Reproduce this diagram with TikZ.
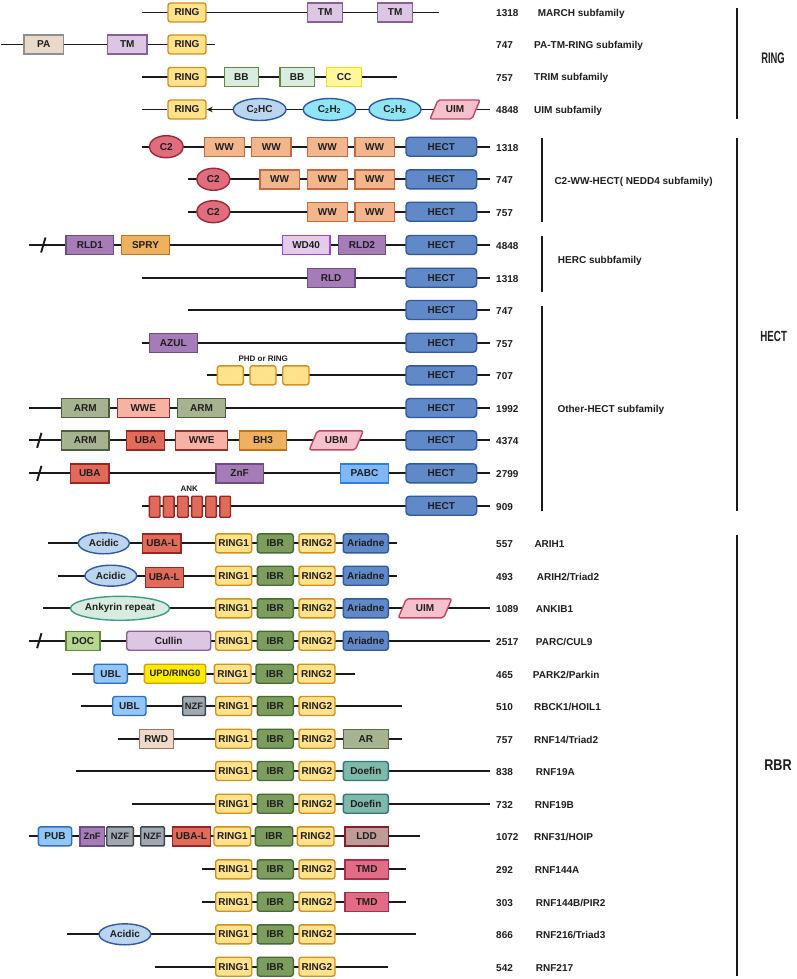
\documentclass[tikz,border=0pt]{standalone}
\usepackage{fontspec}
\setmainfont{Liberation Sans}
\usetikzlibrary{shapes.geometric,arrows.meta}
\definecolor{lineC}{HTML}{1A1A1A}
\definecolor{txtC}{HTML}{1E1E1E}
\definecolor{ringF}{HTML}{FFE28A}\definecolor{ringD}{HTML}{D4901C}
\definecolor{tmF}{HTML}{DCC6E3}\definecolor{tmD}{HTML}{8A5E98}
\definecolor{paF}{HTML}{EAD8C8}\definecolor{paD}{HTML}{8F8F8F}
\definecolor{bbF}{HTML}{D8EDDF}\definecolor{bbD}{HTML}{5E8A3A}
\definecolor{ccF}{HTML}{FFF6A0}\definecolor{ccD}{HTML}{F2E200}
\definecolor{chcF}{HTML}{BCD5EF}\definecolor{chcD}{HTML}{2D5AA5}
\definecolor{chhF}{HTML}{8FE5F4}\definecolor{chhD}{HTML}{2D5AA5}
\definecolor{uimF}{HTML}{F6C0CC}\definecolor{uimD}{HTML}{C2465F}
\definecolor{ctwoF}{HTML}{E06C7E}\definecolor{ctwoD}{HTML}{9A2A3A}
\definecolor{wwF}{HTML}{F3B58C}\definecolor{wwD}{HTML}{C56A3E}
\definecolor{hectF}{HTML}{6189C7}\definecolor{hectD}{HTML}{2F5A9E}
\definecolor{rldF}{HTML}{A57CB7}\definecolor{rldD}{HTML}{6E4C84}
\definecolor{spryF}{HTML}{EEB160}\definecolor{spryD}{HTML}{C27312}
\definecolor{wdF}{HTML}{E3CCEA}\definecolor{wdD}{HTML}{A43FE6}
\definecolor{armF}{HTML}{A6B390}\definecolor{armD}{HTML}{4E6040}
\definecolor{wweF}{HTML}{F6B2A3}\definecolor{wweD}{HTML}{9C3030}
\definecolor{ubaF}{HTML}{E06B5A}\definecolor{ubaD}{HTML}{9A2525}
\definecolor{pabcF}{HTML}{80B7F6}\definecolor{pabcD}{HTML}{2F7FE0}
\definecolor{ibrF}{HTML}{7D9D5F}\definecolor{ibrD}{HTML}{4A6B30}
\definecolor{ankF}{HTML}{D7ECDF}\definecolor{ankD}{HTML}{3E9B8B}
\definecolor{docF}{HTML}{B7D68F}\definecolor{docD}{HTML}{5E8A3A}
\definecolor{ublF}{HTML}{92C6F6}\definecolor{ublD}{HTML}{2F6FC0}
\definecolor{updF}{HTML}{FFEB00}\definecolor{updD}{HTML}{D4A017}
\definecolor{nzfF}{HTML}{A0A9B0}\definecolor{nzfD}{HTML}{3C4650}
\definecolor{rwdF}{HTML}{EED9C9}\definecolor{rwdD}{HTML}{A07262}
\definecolor{arF}{HTML}{A6B390}\definecolor{arD}{HTML}{5A6B45}
\definecolor{doeF}{HTML}{80B9A9}\definecolor{doeD}{HTML}{2E7A80}
\definecolor{lddF}{HTML}{BF9B98}\definecolor{lddD}{HTML}{8A1C2A}
\definecolor{tmdF}{HTML}{E26C86}\definecolor{tmdD}{HTML}{A33050}
\newcommand\lab{\fontsize{10}{12}\selectfont\bfseries}
\newcommand\slab{\fontsize{8}{10}\selectfont\bfseries}
\tikzset{
 backbone/.style={line width=1.9pt, draw=lineC},
 brkline/.style={line width=1.9pt, draw=lineC},
 barline/.style={line width=1.9pt, draw=lineC},
 dbase/.style={draw, line width=1.4pt, inner sep=0pt, minimum height=19pt, font=\lab, text=txtC},
 rnd/.style={dbase, rounded corners=2.5pt},
 ovl/.style={dbase, ellipse, minimum height=22pt},
 numtxt/.style={font=\lab, anchor=west, inner sep=0pt, text=txtC},
 sRING/.style={rnd, fill=ringF, draw=ringD},
 sTM/.style={dbase, fill=tmF, draw=tmD},
 sPA/.style={dbase, fill=paF, draw=paD},
 sBB/.style={dbase, fill=bbF, draw=bbD},
 sCC/.style={dbase, fill=ccF, draw=ccD},
 sCHC/.style={ovl, fill=chcF, draw=chcD},
 sCHH/.style={ovl, fill=chhF, draw=chhD},
 sUIM/.style={line width=1.4pt, fill=uimF, draw=uimD, rounded corners=2pt},
 sCtwo/.style={ovl, fill=ctwoF, draw=ctwoD},
 sWW/.style={dbase, fill=wwF, draw=wwD},
 sHECT/.style={dbase, fill=hectF, draw=hectD, rounded corners=3.5pt},
 sRLD/.style={dbase, fill=rldF, draw=rldD},
 sSPRY/.style={dbase, fill=spryF, draw=spryD},
 sWD/.style={dbase, fill=wdF, draw=wdD},
 sARM/.style={dbase, fill=armF, draw=armD},
 sWWE/.style={dbase, fill=wweF, draw=wweD},
 sUBA/.style={dbase, fill=ubaF, draw=ubaD},
 sUBM/.style={line width=1.4pt, fill=uimF, draw=uimD, rounded corners=2pt},
 sPABC/.style={dbase, fill=pabcF, draw=pabcD},
 sPHD/.style={rnd, fill=ringF, draw=ringD},
 sANK/.style={dbase, fill=ubaF, draw=ubaD, minimum height=21pt, rounded corners=1pt},
 sIBR/.style={rnd, fill=ibrF, draw=ibrD},
 sARI/.style={rnd, fill=hectF, draw=hectD},
 sACI/.style={ovl, fill=chcF, draw=chcD, minimum height=21pt},
 sANKY/.style={ovl, fill=ankF, draw=ankD, minimum height=24pt},
 sDOC/.style={dbase, fill=docF, draw=docD},
 sCUL/.style={rnd, fill=tmF, draw=tmD},
 sUBL/.style={rnd, fill=ublF, draw=ublD},
 sUPD/.style={rnd, fill=updF, draw=updD},
 sNZF/.style={dbase, fill=nzfF, draw=nzfD, rounded corners=1pt},
 sRWD/.style={dbase, fill=rwdF, draw=rwdD},
 sAR/.style={dbase, fill=arF, draw=arD},
 sDOE/.style={rnd, fill=doeF, draw=doeD},
 sLDD/.style={dbase, fill=lddF, draw=lddD},
 sTMD/.style={dbase, fill=tmdF, draw=tmdD},
 sZNF/.style={dbase, fill=rldF, draw=rldD},
}
% box: [opts]{style}{name}{x1}{x2}{y}{text}
\newcommand\dom[7][]{%
 \pgfmathsetmacro\dw{#5-#4}%
 \pgfmathsetmacro\dx{(#4+#5)/2}%
 \node[#2,minimum width=\dw pt,#1] (#3) at (\dx,#6) {#7};}
% parallelogram: {style}{name}{x1}{x2}{y}{text}
\newcommand\para[6]{%
 \draw[#1] (#3,#5+9.5) -- (#3+8,#5-9.5) -- (#4,#5-9.5) -- (#4-8,#5+9.5) -- cycle;
 \node[font=\lab,text=txtC,inner sep=0pt] (#2) at ({(#3+#4)/2},#5) {#6};}
% backbone: {name}{x1}{x2}{y}
\newcommand\bbone[4]{\coordinate (#1a) at (#2,#4);\coordinate (#1b) at (#3,#4);\draw[backbone] (#1a) -- (#1b);}
% break mark: {x}{y}
\newcommand\brk[2]{\draw[brkline] (#1-2.2,#2+7.5) -- (#1+2.2,#2-7.5);}
% number
\newcommand\num[3]{\node[numtxt] (#1) at (496,#3+1) {#2};}
\newcommand\stdrbr[2]{%
 \dom{sRING}{#1ra}{215.7}{251.7}{#2}{RING1}
 \dom{sIBR}{#1ib}{257.3}{293.3}{#2}{IBR}
 \dom{sRING}{#1rb}{299}{335}{#2}{RING2}}
\begin{document}
\begin{tikzpicture}[x=1pt,y=-1pt]
\fill[white] (0,0) rectangle (797,979);
\useasboundingbox (0,0) rectangle (797,979);

% ================= RING =================
\bbone{a1}{141.7}{439}{12.5}
\dom{sRING}{a1r}{168}{206}{12.5}{RING}
\dom{sTM}{a1t}{307.7}{342.7}{12.5}{TM}
\dom{sTM}{a1u}{377.7}{412.7}{12.5}{TM}
\num{a1n}{1318}{12.5}
\node[numtxt] (a1l) at (537.7,13.5) {MARCH subfamily};

\bbone{a2}{1}{215}{44.5}
\dom{sPA}{a2p}{24}{63.3}{44.5}{PA}
\dom{sTM}{a2t}{107.7}{147}{44.5}{TM}
\dom{sRING}{a2r}{168}{206}{44.5}{RING}
\num{a2n}{747}{44.5}
\node[numtxt] (a2l) at (534,45.5) {PA-TM-RING subfamily};

\bbone{a3}{141.7}{396.7}{77}
\dom{sRING}{a3r}{168}{206}{77}{RING}
\dom{sBB}{a3b}{224.3}{258.3}{77}{BB}
\dom{sBB}{a3c}{280}{314.3}{77}{BB}
\dom{sCC}{a3d}{326.7}{361.7}{77}{CC}
\num{a3n}{757}{77}
\node[numtxt] (a3l) at (534,78) {TRIM subfamily};

\bbone{a4}{236}{490}{109.5}
\dom{sRING}{a4r}{168}{206}{109.5}{RING}
\draw[backbone] (141.7,109.5) coordinate (a4s) -- (a4r.west);
\dom{sCHC}{a4c}{233.3}{286}{109.5}{C\textsubscript{2}HC}
\dom{sCHH}{a4d}{303.3}{355.7}{109.5}{C\textsubscript{2}H\textsubscript{2}}
\dom{sCHH}{a4e}{369}{421}{109.5}{C\textsubscript{2}H\textsubscript{2}}
\draw[backbone,-{Stealth[length=6pt,width=5.5pt]}] (a4c.west) -- (a4r.east);
\para{sUIM}{a4u}{430}{480}{109.5}{UIM}
\num{a4n}{4848}{109.5}
\node[numtxt] (a4l) at (534,110.5) {UIM subfamily};

\draw[barline] (736.7,8) coordinate (ringbt) -- (736.7,119) coordinate (ringbb);
\node[inner sep=0pt,text=txtC] (ringlab) at (773,58) {\resizebox{23.5pt}{10.7pt}{\bfseries RING}};

% ================= HECT =================
\bbone{h1}{141.7}{490}{146.7}
\dom{sCtwo}{h1c}{149.3}{183.3}{146.7}{C2}
\dom{sWW}{h1w}{204.3}{244.3}{146.7}{WW}
\dom{sWW}{h1x}{251.7}{291}{146.7}{WW}
\dom{sWW}{h1y}{307.3}{347.3}{146.7}{WW}
\dom{sWW}{h1z}{355}{394.3}{146.7}{WW}
\dom{sHECT}{h1h}{406}{476.7}{146.7}{HECT}
\num{h1n}{1318}{146.7}

\bbone{h2}{187.7}{490}{179.3}
\dom{sCtwo}{h2c}{196.7}{230}{179.3}{C2}
\dom{sWW}{h2w}{260}{299.3}{179.3}{WW}
\dom{sWW}{h2y}{307.3}{347.3}{179.3}{WW}
\dom{sWW}{h2z}{355}{394.3}{179.3}{WW}
\dom{sHECT}{h2h}{406}{476.7}{179.3}{HECT}
\num{h2n}{747}{179.3}

\bbone{h3}{187.7}{490}{211.7}
\dom{sCtwo}{h3c}{196.7}{230}{211.7}{C2}
\dom{sWW}{h3y}{307.3}{347.3}{211.7}{WW}
\dom{sWW}{h3z}{355}{394.3}{211.7}{WW}
\dom{sHECT}{h3h}{406}{476.7}{211.7}{HECT}
\num{h3n}{757}{211.7}

\bbone{h4}{29.3}{490}{245}
\brk{43.3}{245}
\dom{sRLD}{h4a}{66}{113.7}{245}{RLD1}
\dom{sSPRY}{h4b}{121.7}{169.3}{245}{SPRY}
\dom{sWD}{h4c}{282.3}{330}{245}{WD40}
\dom{sRLD}{h4d}{338.3}{385.7}{245}{RLD2}
\dom{sHECT}{h4h}{406}{476.7}{245}{HECT}
\num{h4n}{4848}{245}

\bbone{h5}{141.7}{490}{277.7}
\dom{sRLD}{h5a}{307.3}{355}{277.7}{RLD}
\dom{sHECT}{h5h}{406}{476.7}{277.7}{HECT}
\num{h5n}{1318}{277.7}

\bbone{h6}{187.7}{490}{310}
\dom{sHECT}{h6h}{406}{476.7}{310}{HECT}
\num{h6n}{747}{310}

\bbone{h7}{141.7}{490}{342.7}
\dom{sRLD}{h7a}{149.3}{197.3}{342.7}{AZUL}
\dom{sHECT}{h7h}{406}{476.7}{342.7}{HECT}
\num{h7n}{757}{342.7}

\bbone{h8}{206.7}{490}{375.3}
\dom{sPHD}{h8a}{217.3}{243.3}{375.3}{}
\dom{sPHD}{h8b}{250}{276}{375.3}{}
\dom{sPHD}{h8c}{282.7}{309}{375.3}{}
\node[font=\slab,text=txtC,inner sep=0pt] (h8l) at (263.3,358.3) {PHD or RING};
\dom{sHECT}{h8h}{406}{476.7}{375.3}{HECT}
\num{h8n}{707}{375.3}

\bbone{h9}{29.3}{490}{408}
\dom{sARM}{h9a}{61.7}{109}{408}{ARM}
\dom{sWWE}{h9b}{117.3}{169.3}{408}{WWE}
\dom{sARM}{h9c}{177.7}{225.3}{408}{ARM}
\dom{sHECT}{h9h}{406}{476.7}{408}{HECT}
\num{h9n}{1992}{408}

\bbone{h10}{29.3}{490}{440.3}
\brk{39.3}{440.3}
\dom{sARM}{h10a}{61.7}{109}{440.3}{ARM}
\dom{sUBA}{h10b}{126.7}{164.7}{440.3}{UBA}
\dom{sWWE}{h10c}{175.7}{227.7}{440.3}{WWE}
\dom{sSPRY}{h10d}{239.3}{286.7}{440.3}{BH3}
\para{sUBM}{h10e}{309.3}{363.3}{440.3}{UBM}
\dom{sHECT}{h10h}{406}{476.7}{440.3}{HECT}
\num{h10n}{4374}{440.3}

\bbone{h11}{29.3}{490}{473.3}
\brk{39.3}{473.3}
\dom{sUBA}{h11a}{70.7}{109}{473.3}{UBA}
\dom{sZNF}{h11b}{216}{263.3}{473.3}{ZnF}
\dom{sPABC}{h11c}{340.7}{388.3}{473.3}{PABC}
\dom{sHECT}{h11h}{406}{476.7}{473.3}{HECT}
\num{h11n}{2799}{473.3}

\bbone{h12}{141.7}{490}{505.7}
\foreach \i in {0,...,5}{
 \pgfmathsetmacro\ax{149.3+14.1*\i}
 \pgfmathsetmacro\bx{\ax+10.7}
 \dom{sANK}{h12k\i}{\ax}{\bx}{506.7}{}
}
\node[font=\slab,text=txtC,inner sep=0pt] (h12l) at (189.3,489) {ANK};
\dom{sHECT}{h12h}{406}{476.7}{505.7}{HECT}
\num{h12n}{909}{505.7}

\draw[barline] (541.7,138.3) coordinate (nbt) -- (541.7,221.7) coordinate (nbb);
\node[numtxt] (nlab) at (554.3,182.3) {C2-WW-HECT( NEDD4 subfamily)};
\draw[barline] (541.7,236) coordinate (hbt) -- (541.7,291.7) coordinate (hbb);
\node[numtxt] (hlab) at (557.7,261) {HERC subbfamily};
\draw[barline] (541.7,306) coordinate (obt) -- (541.7,510.7) coordinate (obb);
\node[numtxt] (olab) at (557.3,410) {Other-HECT subfamily};
\draw[barline] (736.7,138.3) coordinate (hectbt) -- (736.7,510.7) coordinate (hectbb);
\node[inner sep=0pt,text=txtC] (hectlab) at (773.7,336) {\resizebox{26.5pt}{10.3pt}{\bfseries HECT}};

% ================= RBR =================
\bbone{r1}{48.3}{396.7}{543.3}
\dom{sACI}{r1a}{78.3}{129.3}{543.3}{Acidic}
\dom{sUBA}{r1b}{142.7}{181}{543.3}{UBA-L}
\stdrbr{r1}{543.3}
\dom{sARI}{r1d}{343.3}{388.3}{543.3}{Ariadne}
\num{r1n}{557}{543.3}
\node[numtxt] (r1l) at (534.3,544.3) {ARIH1};

\bbone{r2}{57.7}{396.7}{575.7}
\dom{sACI}{r2a}{85}{136.7}{575.7}{Acidic}
\dom[minimum height=20pt]{sUBA}{r2b}{145.3}{183.3}{577.2}{UBA-L}
\stdrbr{r2}{575.7}
\dom{sARI}{r2d}{343.3}{388.3}{575.7}{Ariadne}
\num{r2n}{493}{575.7}
\node[numtxt] (r2l) at (536.7,576.7) {ARIH2/Triad2};

\bbone{r3}{43.3}{490}{608.3}
\dom{sANKY}{r3a}{70.7}{169.3}{608.3}{Ankyrin repeat}
\stdrbr{r3}{608.3}
\dom{sARI}{r3d}{343.3}{388.3}{608.3}{Ariadne}
\para{sUIM}{r3u}{398.3}{451.7}{608.3}{UIM}
\num{r3n}{1089}{608.3}
\node[numtxt] (r3l) at (535.7,609.3) {ANKIB1};

\bbone{r4}{29.3}{490}{640.7}
\brk{39.3}{640.7}
\dom{sDOC}{r4a}{66}{100}{640.7}{DOC}
\dom{sCUL}{r4b}{126.7}{210.7}{640.7}{Cullin}
\stdrbr{r4}{640.7}
\dom{sARI}{r4d}{343.3}{388.3}{640.7}{Ariadne}
\num{r4n}{2517}{640.7}
\node[numtxt] (r4l) at (535.7,641.7) {PARC/CUL9};

\bbone{r5}{71.7}{355}{673.7}
\dom{sUBL}{r5a}{94}{127.3}{673.7}{UBL}
\dom[font=\fontsize{9.3}{11}\selectfont\bfseries]{sUPD}{r5b}{144.3}{205.7}{673.7}{UPD/RING0}
\dom{sRING}{r5ra}{214.3}{251}{673.7}{RING1}
\dom{sIBR}{r5ib}{256}{293.3}{673.7}{IBR}
\dom{sRING}{r5rb}{297.7}{335}{673.7}{RING2}
\num{r5n}{465}{673.7}
\node[numtxt] (r5l) at (532.7,674.7) {PARK2/Parkin};

\bbone{r6}{81}{401.7}{706}
\dom{sUBL}{r6a}{112.7}{146}{706}{UBL}
\dom[font=\fontsize{9.3}{11}\selectfont\bfseries]{sNZF}{r6b}{182.7}{205.3}{706}{NZF}
\stdrbr{r6}{706}
\num{r6n}{510}{706}
\node[numtxt] (r6l) at (534,707) {RBCK1/HOIL1};

\bbone{r7}{118.3}{401.7}{738.7}
\dom{sRWD}{r7a}{139.3}{173.3}{738.7}{RWD}
\stdrbr{r7}{738.7}
\dom{sAR}{r7d}{343.3}{388.3}{738.7}{AR}
\num{r7n}{757}{738.7}
\node[numtxt] (r7l) at (534,739.7) {RNF14/Triad2};

\bbone{r8}{76}{490}{771}
\stdrbr{r8}{771}
\dom{sDOE}{r8d}{343.3}{388.3}{771}{Doefin}
\num{r8n}{838}{771}
\node[numtxt] (r8l) at (535.7,772) {RNF19A};

\bbone{r9}{132}{490}{803.7}
\stdrbr{r9}{803.7}
\dom{sDOE}{r9d}{343.3}{388.3}{803.7}{Doefin}
\num{r9n}{732}{803.7}
\node[numtxt] (r9l) at (534.7,804.7) {RNF19B};

\bbone{r10}{29.3}{420}{836.3}
\dom{sUBL}{r10a}{38.3}{71.7}{836.3}{PUB}
\dom[font=\fontsize{9.3}{11}\selectfont\bfseries]{sZNF}{r10b}{80}{104.3}{836.3}{ZnF}
\dom[font=\fontsize{9.3}{11}\selectfont\bfseries]{sNZF}{r10c}{106.7}{133.3}{836.3}{NZF}
\dom[font=\fontsize{9.3}{11}\selectfont\bfseries]{sNZF}{r10d}{140.7}{164.3}{836.3}{NZF}
\dom{sUBA}{r10e}{172.3}{210.7}{836.3}{UBA-L}
\dom{sRING}{r10ra}{214}{250.7}{836.3}{RING1}
\dom{sIBR}{r10ib}{255.3}{292.7}{836.3}{IBR}
\dom{sRING}{r10rb}{297.3}{334}{836.3}{RING2}
\dom{sLDD}{r10f}{345}{388.3}{836.3}{LDD}
\num{r10n}{1072}{836.3}
\node[numtxt] (r10l) at (534,837.3) {RNF31/HOIP};

\bbone{r11}{201.7}{406}{869.3}
\stdrbr{r11}{869.3}
\dom{sTMD}{r11d}{345}{388.3}{869.3}{TMD}
\num{r11n}{292}{869.3}
\node[numtxt] (r11l) at (534.7,870.3) {RNF144A};

\bbone{r12}{201.7}{406}{901.7}
\stdrbr{r12}{901.7}
\dom{sTMD}{r12d}{345}{388.3}{901.7}{TMD}
\num{r12n}{303}{901.7}
\node[numtxt] (r12l) at (535.7,902.7) {RNF144B/PIR2};

\bbone{r13}{66.7}{415.7}{934.3}
\dom{sACI}{r13a}{99}{150.7}{934.3}{Acidic}
\stdrbr{r13}{934.3}
\num{r13n}{866}{934.3}
\node[numtxt] (r13l) at (535.7,935.3) {RNF216/Triad3};

\bbone{r14}{155.3}{387.7}{966.7}
\stdrbr{r14}{966.7}
\num{r14n}{542}{966.7}
\node[numtxt] (r14l) at (535.7,967.7) {RNF217};

\draw[barline] (737.3,535) coordinate (rbrbt) -- (737.3,975.7) coordinate (rbrbb);
\node[inner sep=0pt,text=txtC] (rbrlab) at (778,765) {\resizebox{27.3pt}{10.7pt}{\bfseries RBR}};
\end{tikzpicture}
\end{document}
